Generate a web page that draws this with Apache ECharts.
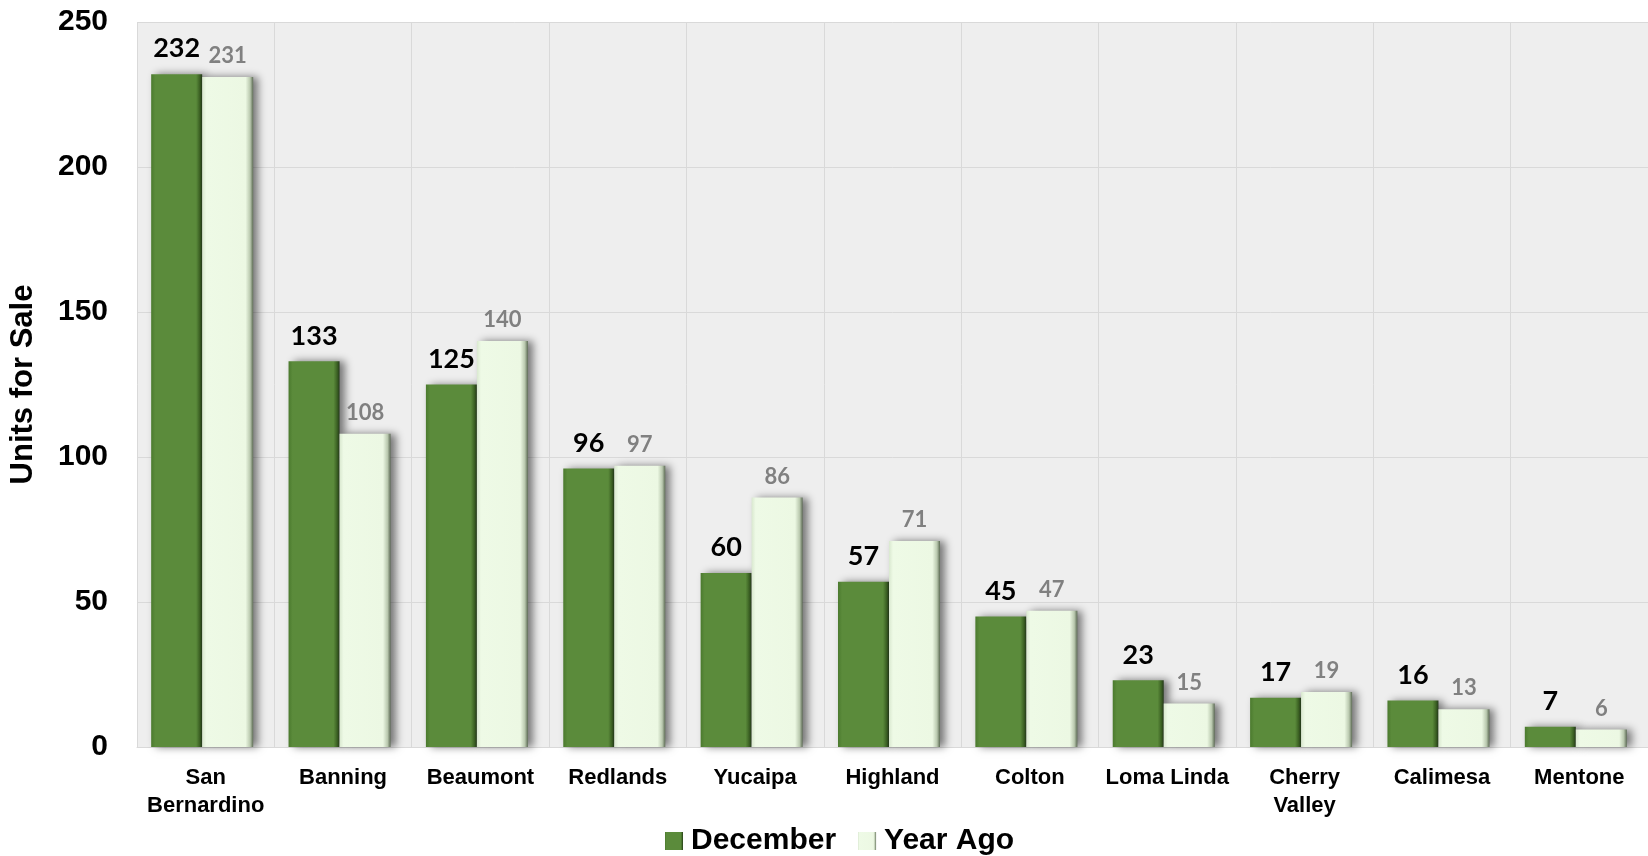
<!DOCTYPE html>
<html><head><meta charset="utf-8">
<script src="https://cdn.jsdelivr.net/npm/echarts@6/dist/echarts.min.js"></script>
<style>html,body{margin:0;padding:0;background:#fff}#c{width:1648px;height:856px}</style>
</head><body><div id="c"></div>
<script>
const categories = ['San\nBernardino','Banning','Beaumont','Redlands','Yucaipa','Highland','Colton','Loma Linda','Cherry\nValley','Calimesa','Mentone'];
const december = [232,133,125,96,60,57,45,23,17,16,7];
const yearAgo = [231,108,140,97,86,71,47,15,19,13,6];
const yTicks = {min:0, max:250, interval:50};

const greenGrad = new echarts.graphic.LinearGradient(0,0,1,0,[
  {offset:0,color:'#4b7a2e'},{offset:0.08,color:'#5b8b3b'},{offset:0.88,color:'#5b8b3b'},{offset:0.95,color:'#3d6324'},{offset:1,color:'#24391a'}]);
const lightGrad = new echarts.graphic.LinearGradient(0,0,1,0,[
  {offset:0,color:'#d9e8cf'},{offset:0.08,color:'#eefae6'},{offset:0.85,color:'#ecf8e3'},{offset:0.94,color:'#b9c8ae'},{offset:1,color:'#5d6b55'}]);

const chart = echarts.init(document.getElementById('c'));
chart.setOption({
  animation:false,
  backgroundColor:'#ffffff',
  grid:{left:137,right:0,top:22,bottom:109,show:true,backgroundColor:'#eeeeee',borderWidth:0},
  legend:{
    top:821,left:660,itemWidth:18,itemHeight:18,itemGap:22,
    textStyle:{fontFamily:'Liberation Sans, Arial',fontWeight:'bold',fontSize:30,color:'#000',padding:[0,0,0,3]},
    data:[{name:'December',icon:'rect'},{name:'Year Ago',icon:'rect'}]
  },
  xAxis:{
    type:'category',data:categories,
    axisLine:{show:true,lineStyle:{color:'#d9d9d9',width:1}},
    axisTick:{show:false},
    splitLine:{show:true,interval:0,lineStyle:{color:'#d9d9d9',width:1}},
    axisLabel:{interval:0,margin:17,fontFamily:'Liberation Sans, Arial',fontWeight:'bold',fontSize:22,lineHeight:28,color:'#000'}
  },
  yAxis:{
    type:'value',min:yTicks.min,max:yTicks.max,interval:yTicks.interval,
    name:'Units for Sale',nameLocation:'middle',nameGap:98,nameRotate:90,
    nameTextStyle:{fontFamily:'Liberation Sans, Arial',fontWeight:'bold',fontSize:31,color:'#000'},
    axisLine:{show:false},axisTick:{show:false},
    splitLine:{show:true,lineStyle:{color:'#d9d9d9',width:1}},
    axisLabel:{margin:29,fontFamily:'Liberation Sans, Arial',fontWeight:'bold',fontSize:30,color:'#000'}
  },
  series:[
    {name:'December',type:'bar',data:december,barGap:'0%',barWidth:51,
     itemStyle:{color:greenGrad,shadowColor:'rgba(0,0,0,0.5)',shadowBlur:8,shadowOffsetX:5,shadowOffsetY:0},
     label:{show:true,position:'top',distance:12,fontFamily:'Lato, Open Sans',fontWeight:'bold',fontSize:27,color:'#000'}},
    {name:'Year Ago',type:'bar',data:yearAgo,barGap:'0%',barWidth:51,
     itemStyle:{color:lightGrad,shadowColor:'rgba(0,0,0,0.5)',shadowBlur:8,shadowOffsetX:5,shadowOffsetY:0},
     label:{show:true,position:'top',distance:10,fontFamily:'Lato, Open Sans',fontWeight:'bold',fontSize:22,color:'#808080'}},
    {name:'spacer',type:'bar',data:[],barGap:'0%',barWidth:7,silent:true,itemStyle:{color:'transparent'},label:{show:false}}
  ]
});
</script></body></html>
